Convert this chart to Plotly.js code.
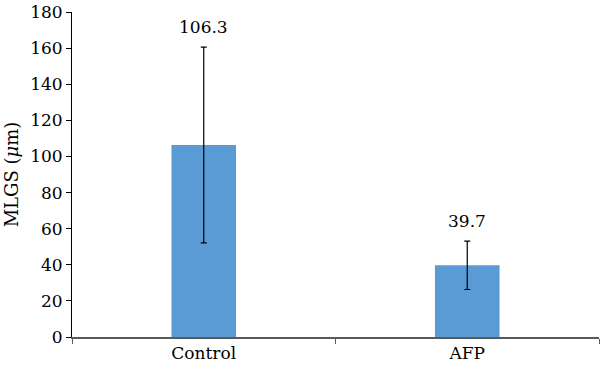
<!DOCTYPE html>
<html>
<head>
<meta charset="utf-8">
<script src="https://cdn.plot.ly/plotly-3.0.1.min.js"></script>
<style>html,body{margin:0;padding:0;background:#fff;}#chart{width:600px;height:366px;}</style>
</head>
<body>
<div id="chart"></div>
<script>
const categories = ["Control", "AFP"];
const means = [106.3, 39.7];
const errors = [54.2, 13.4];
const labels = ["106.3", "39.7"];
const yTicks = [0, 20, 40, 60, 80, 100, 120, 140, 160, 180];

const font = "DejaVu Serif";

const trace = {
  type: "bar",
  x: categories,
  y: means,
  width: 0.245,
  marker: {color: "#5B9BD5"},
  error_y: {type: "data", array: errors, visible: true, color: "#000", thickness: 1.2, width: 3},
  hoverinfo: "none"
};

const annotations = categories.map((c, i) => ({
  x: c, y: means[i] + errors[i], xref: "x", yref: "y",
  text: labels[i], showarrow: false, yanchor: "bottom", yshift: 8,
  font: {family: font, size: 17, color: "#000"}
}));

const layout = {
  width: 600, height: 366,
  margin: {l: 72, r: 1, t: 12, b: 29},
  paper_bgcolor: "#fff", plot_bgcolor: "#fff",
  showlegend: false,
  font: {family: font, size: 17, color: "#000"},
  xaxis: {
    type: "category", tickson: "boundaries", ticks: "outside", ticklen: 5,
    tickcolor: "#595959", showline: true, linecolor: "#595959", linewidth: 2,
    showgrid: false, zeroline: false, fixedrange: true,
    tickfont: {family: font, size: 17, color: "#000"}
  },
  yaxis: {
    range: [0, 180], tickvals: yTicks, ticks: "outside", ticklen: 5,
    tickcolor: "#000", showline: true, linecolor: "#000", linewidth: 1,
    showgrid: false, zeroline: false, fixedrange: true,
    tickfont: {family: font, size: 17, color: "#000"},
    title: {text: "MLGS (<i>μ</i>m)", font: {family: font, size: 18, color: "#000"}, standoff: 6}
  },
  annotations: annotations
};

Plotly.newPlot("chart", [trace], layout, {displayModeBar: false, staticPlot: true});
</script>
</body>
</html>
